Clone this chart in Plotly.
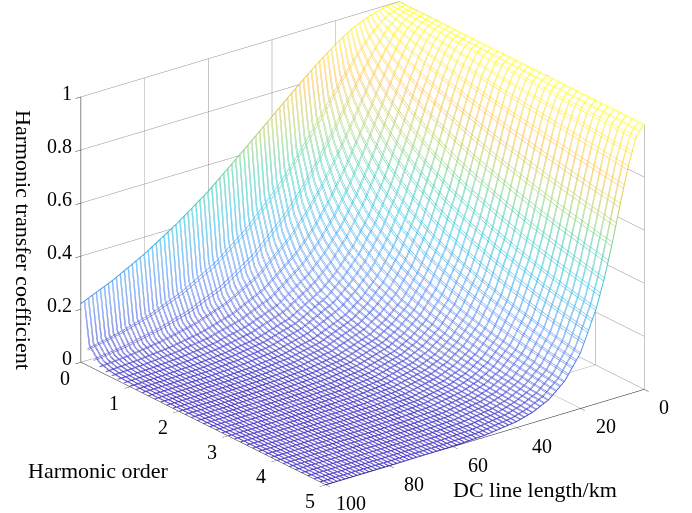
import plotly.graph_objects as go

# DC line length (km) and harmonic order nodes
lengths = [0, 2.5, 5, 7.5, 10, 12.5, 15, 20, 25, 30, 35, 40, 50, 60, 70, 80, 90, 100]
orders = [0, 0.1, 0.3, 0.5, 0.7, 1, 1.5, 2, 2.5, 3, 3.5, 4, 4.5, 5]

# Harmonic transfer coefficient: one row per harmonic order
h_0_0 = [1, .998, .994, .987, .977, .964, .950, .911, .866, .816, .764, .710, .604, .501, .413, .337, .273, .221]
h_0_1 = [1, .996, .986, .969, .945, .916, .882, .807, .723, .638, .557, .481, .354, .256, .184, .131, .094, .067]
h_0_3 = [1, .994, .975, .947, .906, .860, .810, .700, .590, .488, .400, .325, .211, .135, .087, .056, .035, .023]
h_0_5 = [1, .992, .967, .929, .879, .820, .758, .628, .507, .403, .316, .247, .148, .088, .052, .031, .019, .011]
h_0_7 = [1, .990, .960, .914, .854, .786, .715, .575, .448, .343, .261, .198, .111, .063, .035, .020, .011, .006]
h_1_0 = [1, .987, .950, .893, .820, .742, .663, .509, .381, .281, .206, .150, .079, .041, .022, .011, .006, .003]
h_1_5 = [1, .983, .936, .864, .777, .686, .595, .433, .309, .215, .150, .104, .050, .024, .011, .005, .003, .001]
h_2_0 = [1, .980, .923, .838, .740, .639, .542, .377, .257, .171, .115, .076, .034, .015, .007, .003, .001, .001]
h_2_5 = [1, .976, .911, .816, .708, .601, .499, .335, .220, .142, .092, .059, .025, .010, .004, .002, .001, 0]
h_3_0 = [1, .973, .900, .796, .680, .566, .463, .301, .191, .120, .075, .047, .019, .007, .003, .001, 0, 0]
h_3_5 = [1, .971, .890, .776, .654, .535, .432, .272, .167, .103, .063, .038, .014, .005, .002, .001, 0, 0]
h_4_0 = [1, .968, .880, .758, .630, .509, .403, .248, .150, .089, .053, .032, .011, .004, .001, .001, 0, 0]
h_4_5 = [1, .965, .870, .742, .610, .486, .381, .227, .134, .078, .046, .027, .009, .003, .001, 0, 0, 0]
h_5_0 = [1, .962, .860, .728, .590, .465, .361, .210, .121, .069, .040, .023, .007, .002, .001, 0, 0, 0]
coefficient = [h_0_0, h_0_1, h_0_3, h_0_5, h_0_7, h_1_0, h_1_5, h_2_0, h_2_5, h_3_0, h_3_5, h_4_0, h_4_5, h_5_0]

x_ticks = [0, 20, 40, 60, 80, 100]
y_ticks = [0, 1, 2, 3, 4, 5]
z_ticks = [0, 0.2, 0.4, 0.6, 0.8, 1]
z_labels = ["0", "0.2", "0.4", "0.6", "0.8", "1"]

mesh_colors = [[0, "#4a3cc8"], [0.2, "#5a8cf5"], [0.4, "#35c4e4"], [0.55, "#58d2a8"],
               [0.65, "#aed468"], [0.8, "#ffc24a"], [1, "#ffff35"]]
FONT = "Liberation Serif"

fig = go.Figure()
# opaque white sheet hides whatever lies behind the mesh
fig.add_trace(go.Surface(x=lengths, y=orders, z=[[v - 0.004 for v in row] for row in coefficient],
                         colorscale=[[0, "white"], [1, "white"]], showscale=False,
                         lighting=dict(ambient=1, diffuse=0, specular=0, fresnel=0), hoverinfo="skip"))
# each mesh line is drawn as a close pair, because WebGL lines stay one pixel wide
for d_len, d_ord in [(0, 0), (0.25, 0.015)]:
    fig.add_trace(go.Surface(x=lengths, y=orders, z=coefficient, colorscale=mesh_colors, cmin=0, cmax=1,
                             showscale=False, hidesurface=True,
                             contours=dict(
                                 x=dict(show=True, start=d_len, end=100, size=1.25, usecolormap=True, width=2, highlight=False),
                                 y=dict(show=True, start=0.125 + d_ord, end=5, size=0.125, usecolormap=True, width=2, highlight=False),
                                 z=dict(show=False, highlight=False))))
# surface edges
fig.add_trace(go.Scatter3d(x=lengths, y=[orders[0]] * len(lengths), z=coefficient[0], mode="lines",
                           line=dict(color=coefficient[0], colorscale=mesh_colors, cmin=0, cmax=1, width=2), showlegend=False))
fig.add_trace(go.Scatter3d(x=lengths, y=[orders[-1]] * len(lengths), z=coefficient[-1], mode="lines",
                           line=dict(color=coefficient[-1], colorscale=mesh_colors, cmin=0, cmax=1, width=2), showlegend=False))

axis = dict(showbackground=False, showgrid=True, gridcolor="#8c8c8c", gridwidth=1, zeroline=False,
            showline=True, linecolor="#111111", linewidth=1, ticks="outside", ticklen=7, tickcolor="#333333",
            showticklabels=False, title=dict(text=""), showspikes=False)
tick_font = dict(family=FONT, size=20, color="black")
tick_notes = []
for v, label in zip(z_ticks, z_labels):
    tick_notes.append(dict(x=100, y=0, z=v, text=label, showarrow=False, xanchor="right", yanchor="middle",
                           xshift=-7, yshift=4, font=tick_font))
for v in y_ticks:
    tick_notes.append(dict(x=100, y=v, z=0, text=str(v), showarrow=False, xanchor="center", yanchor="middle",
                           xshift=-16, yshift=-16, font=tick_font))
for v in x_ticks:
    tick_notes.append(dict(x=v, y=5, z=0, text=str(v), showarrow=False, xanchor="center", yanchor="middle",
                           xshift=20 if v == 0 else 25, yshift=-18, font=tick_font))

cx, cy, cz = 0.0634, -0.0236, -0.048
R = 1.28
fig.update_layout(
    width=692, height=513, margin=dict(l=0, r=0, t=0, b=0), paper_bgcolor="white", showlegend=False,
    scene=dict(
        domain=dict(x=[0, 1], y=[0, 1]),
        aspectmode="manual", aspectratio=dict(x=1.57, y=1.56, z=1.122),
        xaxis=dict(axis, range=[0, 100], tickvals=x_ticks),
        yaxis=dict(axis, range=[0, 5], tickvals=y_ticks),
        zaxis=dict(axis, range=[0, 1], tickvals=z_ticks),
        annotations=tick_notes,
        camera=dict(projection=dict(type="orthographic"),
                    center=dict(x=cx, y=cy, z=cz),
                    eye=dict(x=cx + 0.564 * R, y=cy + 0.729 * R, z=cz + 0.387 * R),
                    up=dict(x=0, y=0, z=1))),
    annotations=[
        dict(text="Harmonic transfer coefficient", x=24 / 692, y=1 - 240 / 513, xref="paper", yref="paper",
             xanchor="center", yanchor="middle", textangle=90, showarrow=False,
             font=dict(family=FONT, size=22, color="black")),
        dict(text="Harmonic order", x=98 / 692, y=1 - 470 / 513, xref="paper", yref="paper",
             xanchor="center", yanchor="middle", showarrow=False, font=dict(family=FONT, size=22, color="black")),
        dict(text="DC line length/km", x=535 / 692, y=1 - 489 / 513, xref="paper", yref="paper",
             xanchor="center", yanchor="middle", showarrow=False, font=dict(family=FONT, size=22, color="black")),
    ])
fig.write_html("out.html", config=dict(displayModeBar=False), post_script="document.body.style.margin='0';")
